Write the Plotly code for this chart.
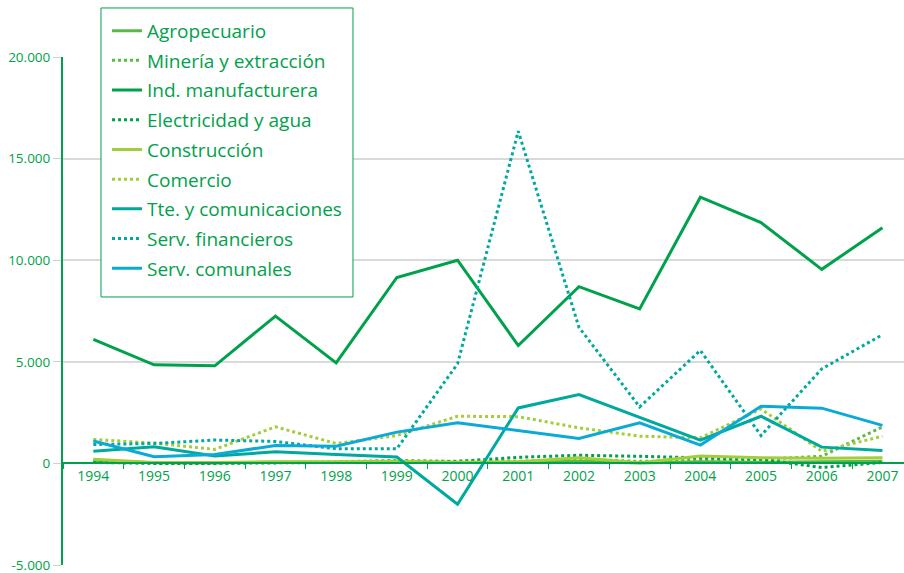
import plotly.graph_objects as go

years = [str(y) for y in range(1994, 2008)]

agropecuario = [150, 30, 20, 60, 50, 40, 30, 50, 100, 20, 80, 60, 80, 100]
mineria = [100, 20, 30, 50, 80, 150, 100, 100, 200, 100, 150, 200, 350, 1800]
manufactura = [6100, 4850, 4800, 7250, 4950, 9150, 10000, 5800, 8700, 7600, 13100, 11850, 9550, 11600]
electricidad = [50, 0, 0, 20, 30, 80, 100, 300, 400, 350, 280, 200, -200, 50]
construccion = [200, 50, 40, 80, 80, 100, 60, 80, 280, 30, 360, 280, 250, 280]
comercio = [1180, 1000, 690, 1800, 980, 1370, 2320, 2300, 1750, 1340, 1260, 2680, 600, 1340]
transporte = [600, 820, 360, 570, 440, 310, -2010, 2730, 3390, 2270, 1150, 2320, 800, 640]
financieros = [930, 980, 1150, 1080, 720, 720, 4900, 16350, 6700, 2780, 5560, 1370, 4650, 6330]
comunales = [1100, 330, 440, 880, 850, 1540, 2000, 1620, 1230, 2000, 900, 2810, 2720, 1870]

y_ticks = [-5000, 0, 5000, 10000, 15000, 20000]
y_labels = ["-5.000", "0", "5.000", "10.000", "15.000", "20.000"]

GREEN = "#00a14b"
MID = "#5bb947"
LIME = "#a3cd3a"
TEAL = "#00a99d"
CYAN = "#0baad6"

series = [
    ("Agropecuario", agropecuario, MID, "solid"),
    ("Minería y extracción", mineria, MID, "dot"),
    ("Ind. manufacturera", manufactura, GREEN, "solid"),
    ("Electricidad y agua", electricidad, GREEN, "dot"),
    ("Construcción", construccion, LIME, "solid"),
    ("Comercio", comercio, LIME, "dot"),
    ("Tte. y comunicaciones", transporte, TEAL, "solid"),
    ("Serv. financieros", financieros, TEAL, "dot"),
    ("Serv. comunales", comunales, CYAN, "solid"),
]

fig = go.Figure()
for i, (name, vals, color, dash) in enumerate(series):
    fig.add_trace(
        go.Scatter(
            x=years,
            y=vals,
            mode="lines",
            name=name,
            legendgroup=f"g{i}",
            line=dict(color=color, width=3, dash=dash),
        )
    )

# legend frame drawn separately so its padding matches the original
fig.add_shape(
    type="rect",
    xref="paper",
    yref="paper",
    x0=0.0452,
    x1=0.3448,
    y0=0.5276,
    y1=1.0965,
    line=dict(color=GREEN, width=1),
    fillcolor="white",
    layer="above",
)

fig.update_layout(
    width=904,
    height=573,
    plot_bgcolor="white",
    paper_bgcolor="white",
    font=dict(family="Open Sans", color=GREEN, size=14),
    margin=dict(l=63, r=0, t=57, b=8),
    legend=dict(
        x=0.0523,
        y=1.089,
        xanchor="left",
        yanchor="top",
        borderwidth=0,
        bgcolor="rgba(0,0,0,0)",
        font=dict(size=19, color=GREEN),
        tracegroupgap=2,
        maxheight=600,
    ),
    xaxis=dict(
        type="category",
        range=[-0.5, 13.355],
        anchor="free",
        position=0.2,
        automargin=False,
        showline=True,
        linecolor=GREEN,
        linewidth=2,
        showgrid=False,
        ticks="outside",
        tickson="boundaries",
        ticklen=5,
        tickcolor=GREEN,
        tickfont=dict(size=14, color=GREEN),
    ),
    yaxis=dict(
        range=[-5000, 20000],
        tickvals=y_ticks,
        ticktext=y_labels,
        automargin=False,
        ticklabeloverflow="allow",
        showline=True,
        linecolor=GREEN,
        linewidth=2,
        showgrid=True,
        gridcolor="#d9d9d9",
        gridwidth=2,
        zeroline=False,
        ticks="outside",
        ticklen=8,
        tickcolor="#d0d0d0",
        tickfont=dict(size=13.5, color=GREEN),
    ),
)

# drop the browser's default body margin so the figure sits at the page corner
fig.write_html(
    "out.html",
    config={"displayModeBar": False},
    post_script="document.body.style.margin='0';document.body.style.overflow='hidden';",
)
